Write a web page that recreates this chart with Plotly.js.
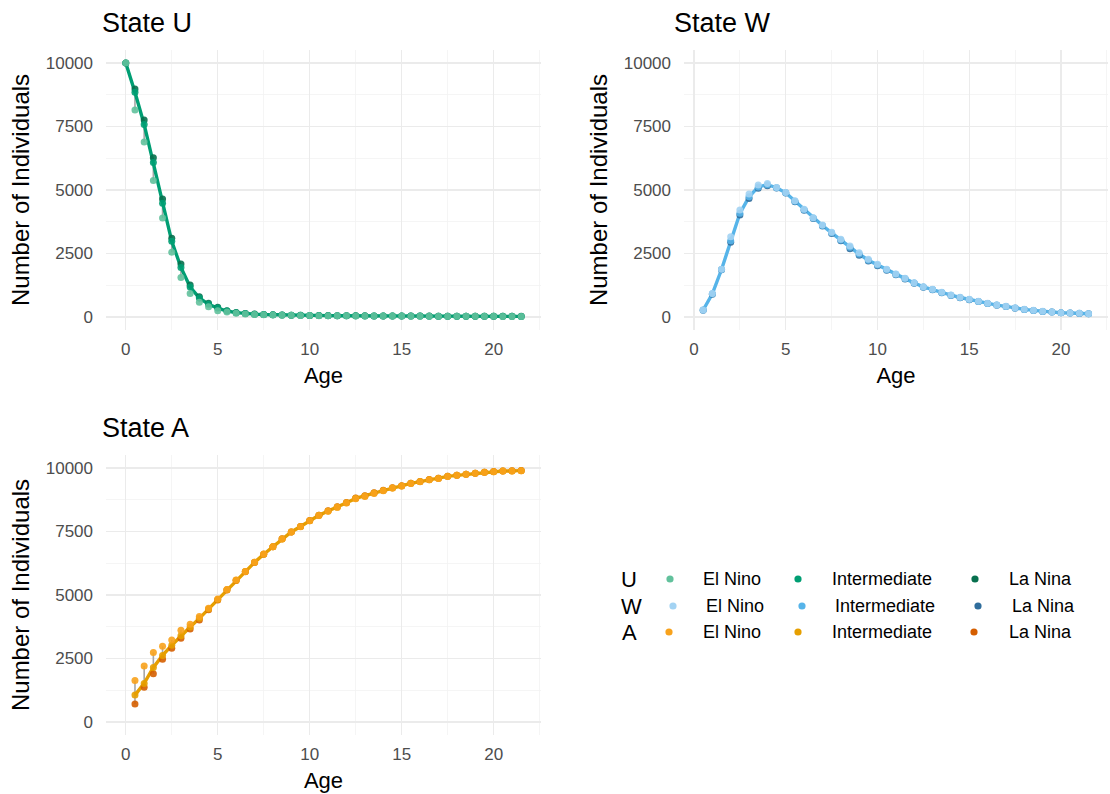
<!DOCTYPE html>
<html><head><meta charset="utf-8">
<script src="https://cdn.plot.ly/plotly-3.0.1.min.js"></script>
<style>html,body{margin:0;padding:0;background:#fff}#chart{width:1110px;height:794px}</style>
</head><body><div id="chart"></div>
<script>
const agesU = [0,0.5,1,1.5,2,2.5,3,3.5,4,4.5,5,5.5,6,6.5,7,7.5,8,8.5,9,9.5,10,10.5,11,11.5,12,12.5,13,13.5,14,14.5,15,15.5,16,16.5,17,17.5,18,18.5,19,19.5,20,20.5,21,21.5];
const agesWA = [0.5,1,1.5,2,2.5,3,3.5,4,4.5,5,5.5,6,6.5,7,7.5,8,8.5,9,9.5,10,10.5,11,11.5,12,12.5,13,13.5,14,14.5,15,15.5,16,16.5,17,17.5,18,18.5,19,19.5,20,20.5,21,21.5];

const uElNino = [10000,8150,6890,5370,3900,2550,1560,930,580,400,250,200,150,120,100,90,80,72,66,60,56,52,50,47,45,43,41,39,37,36,35,34,33,32,31,30,29,28,27,26,25,24,23,22];
const uInter  = [10000,8850,7580,6080,4480,2980,1950,1180,750,500,350,235,172,135,112,97,86,78,71,65,60,56,53,50,48,46,44,42,40,38.5,37.5,36,35,34,33,32,31,30,29,28,27,26,25,24];
const uLaNina = [10000,8980,7760,6270,4650,3100,2090,1260,800,540,380,250,180,140,115,100,88,80,73,67,62,58,55,52,49,47,45,43,41,39,38,37,36,35,34,33,32,31,30,29,28,27,26,25];

const wElNino = [280,930,1880,3160,4210,4840,5200,5260,5100,4900,4580,4240,3910,3620,3340,3060,2800,2530,2270,2075,1880,1695,1522,1351,1194,1090,972,866,774,696,617,539,472,420,354,302,262,223,197,170,157,144,131];
const wInter  = [275,915,1870,3000,4080,4730,5120,5210,5090,4890,4560,4220,3895,3600,3315,3030,2745,2480,2235,2048,1860,1680,1511,1340,1185,1080,963,858,767,690,611,535,468,416,351,300,260,221,195,169,156,143,130];
const wLaNina = [270,900,1860,2940,4020,4670,5070,5170,5080,4880,4540,4200,3880,3580,3290,3000,2690,2430,2200,2020,1840,1665,1500,1330,1175,1070,955,850,760,684,606,530,465,413,349,298,258,220,194,168,155,142,129];

const aElNino = [1630,2200,2740,2980,3230,3610,3850,4150,4480,4840,5220,5590,5930,6290,6610,6900,7200,7480,7690,7920,8130,8300,8450,8620,8790,8880,9000,9100,9210,9290,9390,9460,9540,9590,9670,9710,9750,9790,9830,9855,9880,9885,9895];
const aInter  = [1060,1520,2150,2620,3020,3400,3740,4080,4450,4820,5210,5580,5925,6285,6605,6900,7205,7480,7695,7925,8135,8310,8460,8630,8805,8895,9015,9110,9215,9295,9395,9465,9542,9595,9672,9712,9752,9792,9831,9856,9881,9886,9896];
const aLaNina = [710,1370,1900,2470,2900,3300,3660,4020,4420,4800,5200,5570,5920,6280,6600,6900,7210,7480,7700,7930,8140,8320,8470,8640,8820,8910,9030,9120,9220,9300,9400,9470,9545,9600,9675,9715,9755,9795,9833,9858,9882,9888,9898];

const stateNames = ['U','W','A'];
const scenarioNames = ['El Nino','Intermediate','La Nina'];
const yTickVals = [0,2500,5000,7500,10000];
const yTickText = ['0','2500','5000','7500','10000'];
const xTickVals = [0,5,10,15,20];
const xTickText = ['0','5','10','15','20'];

const colors = {
  U: ['#62c19c','#009E73','#07704e'],
  W: ['#a3d3f3','#56B4E9','#2f6d9c'],
  A: ['#f8a21c','#E69F00','#D55E00']
};

const W = 1110, H = 794;
const px = v => v / W;
const py = v => 1 - v / H;
const FONT = '"Liberation Sans", Arial, sans-serif';

const panels = [
  {state:'U', ages:agesU, e:uElNino, i:uInter, l:uLaNina, xa:'x', ya:'y'},
  {state:'W', ages:agesWA, e:wElNino, i:wInter, l:wLaNina, xa:'x2', ya:'y2'},
  {state:'A', ages:agesWA, e:aElNino, i:aInter, l:aLaNina, xa:'x3', ya:'y3'}
];

const traces = [];
panels.forEach(p => {
  const sx = [], sy = [];
  p.ages.forEach((a, k) => { sx.push(a, a, null); sy.push(p.e[k], p.l[k], null); });
  const c = colors[p.state];
  traces.push({x:sx, y:sy, xaxis:p.xa, yaxis:p.ya, mode:'lines', type:'scatter',
    line:{color:'#a6a6a6', width:1.6}, hoverinfo:'skip', showlegend:false});
  traces.push({x:p.ages, y:p.i, xaxis:p.xa, yaxis:p.ya, mode:'lines', type:'scatter',
    line:{color:c[1], width:3.4}, showlegend:false});
  traces.push({x:p.ages, y:p.l, xaxis:p.xa, yaxis:p.ya, mode:'markers', type:'scatter',
    marker:{color:c[2], size:7, opacity:0.9}, name:p.state+' '+scenarioNames[2], showlegend:false});
  traces.push({x:p.ages, y:p.i, xaxis:p.xa, yaxis:p.ya, mode:'markers', type:'scatter',
    marker:{color:c[1], size:7, opacity:0.9}, name:p.state+' '+scenarioNames[1], showlegend:false});
  traces.push({x:p.ages, y:p.e, xaxis:p.xa, yaxis:p.ya, mode:'markers', type:'scatter',
    marker:{color:c[0], size:7, opacity:0.9}, name:p.state+' '+scenarioNames[0], showlegend:false});
});

function xAxis(domain, range, anchor){
  return {domain:domain, range:range, anchor:anchor, tickvals:xTickVals, ticktext:xTickText, ticks:'',
    showline:false, zeroline:false, showgrid:true, gridcolor:'#ebebeb', gridwidth:1.3,
    minor:{dtick:2.5, tick0:0, showgrid:true, gridcolor:'#f3f3f3', gridwidth:0.8, ticks:''},
    tickfont:{size:17, color:'#4d4d4d', family:FONT}, ticklabelstandoff:7,
    title:{text:'Age', font:{size:22, color:'#000', family:FONT}, standoff:9}};
}
function yAxis(domain, anchor){
  return {domain:domain, range:[-500,10500], anchor:anchor, tickvals:yTickVals, ticktext:yTickText, ticks:'',
    showline:false, zeroline:false, showgrid:true, gridcolor:'#ebebeb', gridwidth:1.3,
    minor:{dtick:1250, tick0:0, showgrid:true, gridcolor:'#f3f3f3', gridwidth:0.8, ticks:''},
    tickfont:{size:17, color:'#4d4d4d', family:FONT}, ticklabelstandoff:12,
    title:{text:'Number of Individuals', font:{size:24, color:'#000', family:FONT}, standoff:9}};
}

const topY = [py(329.7), py(50.3)];
const botY = [py(734.7), py(455.3)];
const leftX = [px(106), px(541)];
const rightX = [px(684), px(1108)];

const annotations = [
  {text:'State U', x:px(100), y:py(23), xref:'paper', yref:'paper', xanchor:'left', yanchor:'middle', showarrow:false, font:{size:27, color:'#000', family:FONT}},
  {text:'State W', x:px(672), y:py(23), xref:'paper', yref:'paper', xanchor:'left', yanchor:'middle', showarrow:false, font:{size:27, color:'#000', family:FONT}},
  {text:'State A', x:px(100), y:py(428), xref:'paper', yref:'paper', xanchor:'left', yanchor:'middle', showarrow:false, font:{size:27, color:'#000', family:FONT}}
];
const shapes = [];

const rowY = [579, 606, 632];
const letterX = [629, 631, 629];
const dotX = [[670,798,975],[673,802,978],[669,798,974]];
const textX = [[732,882,1040],[735,885,1043],[732,882,1040]];
stateNames.forEach((s, r) => {
  annotations.push({text:s, x:px(letterX[r]), y:py(rowY[r]), xref:'paper', yref:'paper', xanchor:'center', yanchor:'middle', showarrow:false, font:{size:22, color:'#000', family:FONT}});
  scenarioNames.forEach((n, c) => {
    annotations.push({text:n, x:px(textX[r][c]), y:py(rowY[r]), xref:'paper', yref:'paper', xanchor:'center', yanchor:'middle', showarrow:false, font:{size:18, color:'#000', family:FONT}});
    shapes.push({type:'circle', xref:'paper', yref:'paper', xsizemode:'pixel', ysizemode:'pixel',
      xanchor:px(dotX[r][c]), yanchor:py(rowY[r]), x0:-3.6, x1:3.6, y0:-3.6, y1:3.6,
      fillcolor:colors[s][c], line:{width:0}});
  });
});

const layout = {
  width:W, height:H, margin:{l:0, r:0, t:0, b:0}, paper_bgcolor:'#fff', plot_bgcolor:'#fff',
  showlegend:false, font:{family:FONT},
  xaxis: xAxis(leftX, [-1.075, 22.575], 'y'),
  yaxis: yAxis(topY, 'x'),
  xaxis2: xAxis(rightX, [-0.545, 22.56], 'y2'),
  yaxis2: yAxis(topY, 'x2'),
  xaxis3: xAxis(leftX, [-1.075, 22.575], 'y3'),
  yaxis3: yAxis(botY, 'x3'),
  annotations: annotations, shapes: shapes
};

Plotly.newPlot('chart', traces, layout, {displayModeBar:false, staticPlot:true});
</script></body></html>
